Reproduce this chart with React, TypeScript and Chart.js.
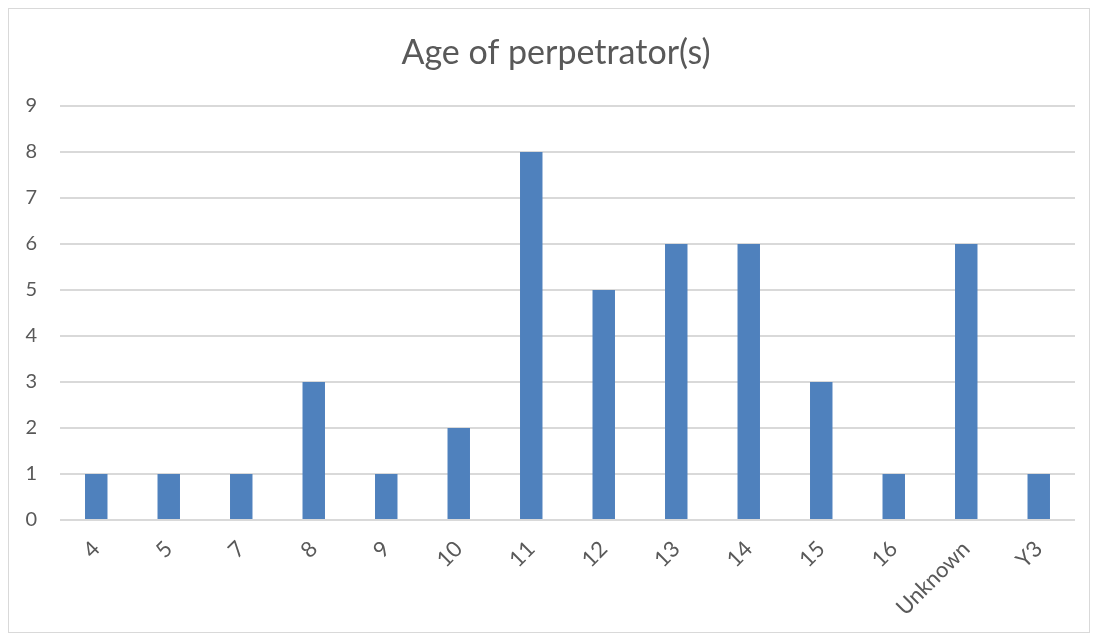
import React, { useEffect, useRef } from "react";
import { Chart, registerables } from "chart.js";

Chart.register(...registerables);

const categories = ["4", "5", "7", "8", "9", "10", "11", "12", "13", "14", "15", "16", "Unknown", "Y3"];
const counts = [1, 1, 1, 3, 1, 2, 8, 5, 6, 6, 3, 1, 6, 1];
const titleText = "Age of perpetrator(s)";
const yMin = 0;
const yMax = 9;

const FONT = "Lato, 'Open Sans', sans-serif";

const titlePlugin = {
  id: "excelTitle",
  afterDraw(chart: any) {
    const ctx = chart.ctx;
    ctx.save();
    ctx.fillStyle = "#595959";
    ctx.font = `34px ${FONT}`;
    ctx.textAlign = "center";
    ctx.textBaseline = "middle";
    ctx.fillText(titleText, 547, 44);
    ctx.restore();
  },
};

export default function App() {
  const ref = useRef<HTMLCanvasElement | null>(null);
  useEffect(() => {
    if (!ref.current) return;
    const chart = new Chart(ref.current, {
      type: "bar",
      data: {
        labels: categories,
        datasets: [
          {
            data: counts,
            backgroundColor: "#4F81BD",
            borderWidth: 0,
            barPercentage: 0.31,
            categoryPercentage: 1,
          },
        ],
      },
      plugins: [titlePlugin],
      options: {
        responsive: false,
        animation: false,
        layout: { padding: { left: 5, right: 14, top: 97, bottom: 0 } },
        plugins: {
          legend: { display: false },
          tooltip: { enabled: false },
          title: { display: false },
        },
        scales: {
          x: {
            grid: { display: false, drawTicks: false },
            border: { display: false },
            ticks: {
              color: "#595959",
              font: { family: FONT, size: 22 },
              maxRotation: 45,
              minRotation: 45,
              padding: 16,
              autoSkip: false,
            },
            afterFit: (s: any) => {
              s.height = 112;
            },
          },
          y: {
            min: yMin,
            max: yMax,
            grid: { color: "#d9d9d9", lineWidth: 2, drawTicks: false },
            border: { display: false },
            ticks: {
              stepSize: 1,
              color: "#595959",
              font: { family: FONT, size: 20 },
              padding: 23,
            },
            afterFit: (s: any) => {
              s.width = 46;
            },
          },
        },
      },
    });
    return () => chart.destroy();
  }, []);
  return (
    <div
      style={{
        width: 1082,
        height: 625,
        border: "1px solid #d9d9d9",
        boxSizing: "border-box",
        background: "#fff",
      }}
    >
      <canvas ref={ref} width={1080} height={623} style={{ display: "block" }} />
    </div>
  );
}
